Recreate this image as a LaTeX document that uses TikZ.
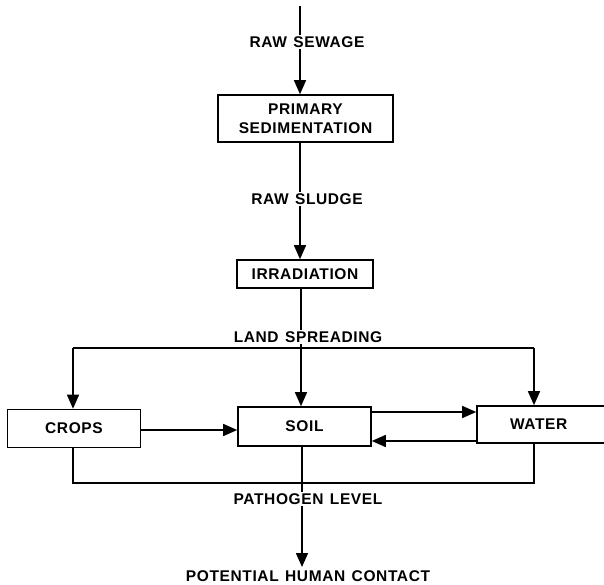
\documentclass[tikz,border=0pt]{standalone}
\usepackage{fontspec}
\setmainfont{Liberation Sans}[LetterSpace=4,WordSpace=1.3]
\usetikzlibrary{arrows.meta}
\begin{document}
\begin{tikzpicture}[x=1pt,y=-1pt,
  line width=1.5pt,
  box/.style={draw, line width=1.6pt, inner sep=0pt, font=\fontsize{15.5}{19}\selectfont\bfseries, align=center},
  lbl/.style={fill=white, inner sep=1.5pt, font=\fontsize{15.5}{19}\selectfont\bfseries},
  arr/.style={-{Triangle[width=12pt,length=14pt]}},
]
\useasboundingbox (0,0) rectangle (604,585);
% nodes
\node[box, minimum width=175, minimum height=47] (prim) at (305.5,118.5) {PRIMARY\\SEDIMENTATION};
\node[box, minimum width=136, minimum height=28] (irr) at (305,274) {IRRADIATION};
\node[box, minimum width=133, minimum height=38] (crops) at (74,428.5) {CROPS};
\node[box, minimum width=150, minimum height=37, text width=122, align=left] (water) at (552,424.5) {\hspace*{19pt}WATER};
\node[box, minimum width=133, minimum height=39] (soil) at (304.5,426.5) {SOIL};
\coordinate (top) at (300,6);
\coordinate (lsR) at (534,348);
\coordinate (lsL) at (73,348);
\coordinate (lsC) at (301,348);
\coordinate (pgL) at (73,483);
\coordinate (pgR) at (534,483);
\coordinate (pgC) at (302,483);
\coordinate (end) at (302,567);
% connectors
\draw[arr] (top) -- (top |- prim.north);
\draw[arr] (prim.south -| top) -- (top |- irr.north);
\draw (irr.south -| lsC) -- (lsC);
\draw (lsL) -- (lsR);
\draw[arr] (lsL) -- (crops.north -| lsL);
\draw[arr] (lsC) -- (soil.north -| lsC);
\draw[arr] (lsR) -- (water.north -| lsR);
\draw[arr] (crops.east |- 0,430) -- (soil.west |- 0,430);
\draw[arr] (soil.east |- 0,412) -- (water.west |- 0,412);
\draw[arr] (water.west |- 0,441) -- (soil.east |- 0,441);
\draw (crops.south -| pgL) -- (pgL) -- (pgR) -- (water.south -| pgR);
\draw[arr] (soil.south -| pgC) -- (end);
% labels
\node[lbl] (rawsewage) at (307,42) {RAW SEWAGE};
\node[lbl] (rawsludge) at (307,199) {RAW SLUDGE};
\node[lbl] (landspreading) at (308,337) {LAND SPREADING};
\node[lbl] (pathogen) at (308,499) {PATHOGEN LEVEL};
\node[font=\fontsize{15.5}{19}\selectfont\bfseries, inner sep=0pt] (human) at (308,576) {POTENTIAL HUMAN CONTACT};
\end{tikzpicture}
\end{document}
